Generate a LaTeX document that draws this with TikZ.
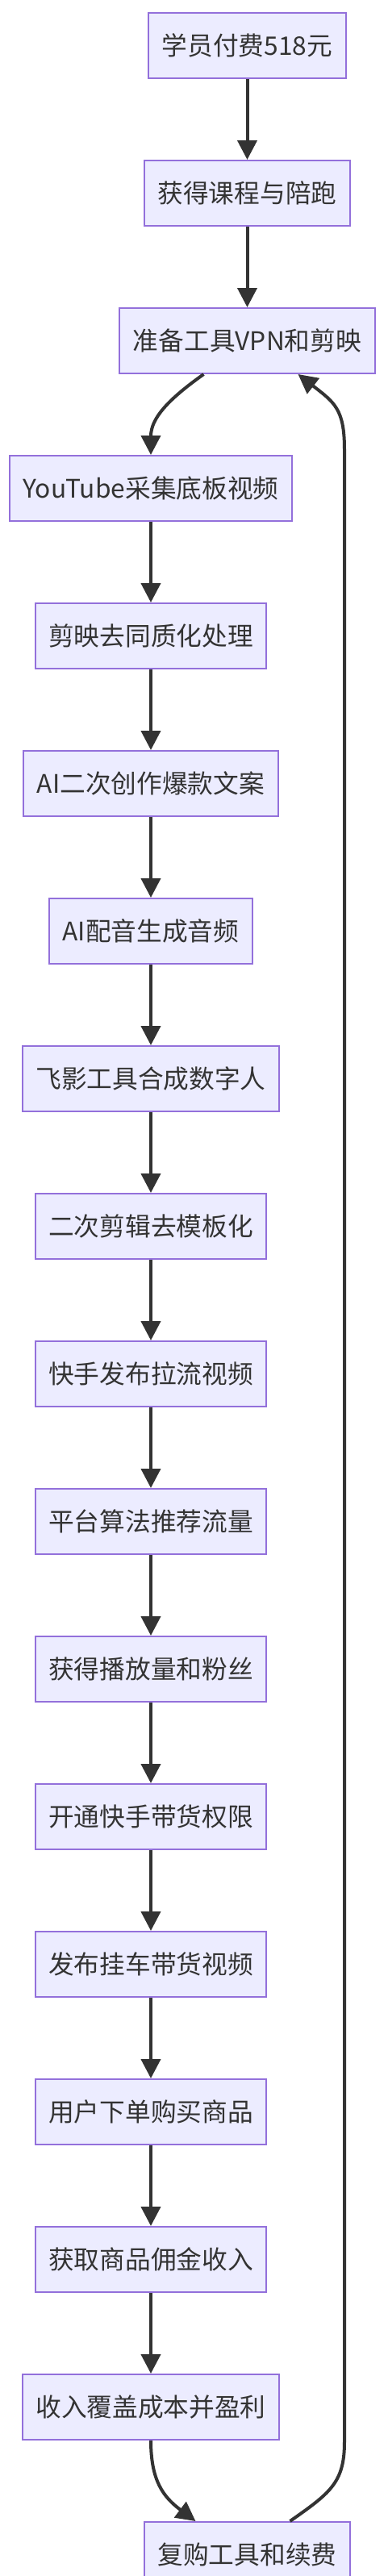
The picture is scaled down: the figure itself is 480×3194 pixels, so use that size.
\documentclass[tikz,border=0pt]{standalone}
\usepackage{fontspec}
\newfontfamily\cjk{Noto Sans CJK SC}
\usetikzlibrary{arrows.meta,positioning,calc}
\definecolor{nodefill}{HTML}{ECECFF}
\definecolor{nodeline}{HTML}{9370DB}
\definecolor{ink}{HTML}{333333}

\begin{document}
\begin{tikzpicture}[x=1pt, y=1pt,
    node distance=100pt,
    flow/.style={rectangle, draw=nodeline, line width=2pt, fill=nodefill, minimum height=81pt, inner xsep=16.5pt, text=ink, font=\cjk\fontsize{31.7pt}{38pt}\selectfont},
    arrow/.style={-{Triangle[length=24pt, width=24pt]}, line width=4pt, draw=ink},
]
    \useasboundingbox (0,0) rectangle (480,-3194);
    \node[flow] (pay) at (306.5,-56.5) {学员付费518元};
    \node[flow, below=of pay] (course) {获得课程与陪跑};
    \node[flow, below=of course] (tools) {准备工具VPN和剪映};
    \node[flow, below=of tools, xshift=-119.5pt] (yt) {YouTube采集底板视频};
    \node[flow, below=of yt] (dedup) {剪映去同质化处理};
    \node[flow, below=of dedup] (copy) {AI二次创作爆款文案};
    \node[flow, below=of copy] (voice) {AI配音生成音频};
    \node[flow, below=of voice] (avatar) {飞影工具合成数字人};
    \node[flow, below=of avatar] (reedit) {二次剪辑去模板化};
    \node[flow, below=of reedit] (publish) {快手发布拉流视频};
    \node[flow, below=of publish] (algo) {平台算法推荐流量};
    \node[flow, below=of algo] (fans) {获得播放量和粉丝};
    \node[flow, below=of fans] (perm) {开通快手带货权限};
    \node[flow, below=of perm] (cart) {发布挂车带货视频};
    \node[flow, below=of cart] (order) {用户下单购买商品};
    \node[flow, below=of order] (commission) {获取商品佣金收入};
    \node[flow, below=of commission] (profit) {收入覆盖成本并盈利};
    \node[flow, below=of profit, xshift=119.5pt] (rebuy) {复购工具和续费};
    \coordinate (loopx) at (427,0);

    \draw[arrow] (pay) -- (course);
    \draw[arrow] (course) -- (tools);
    \draw[arrow] ([xshift=-54pt]tools.south) .. controls +(-45pt,-32pt) and +(0,45pt) .. (yt.north);
    \draw[arrow] (yt) -- (dedup);
    \draw[arrow] (dedup) -- (copy);
    \draw[arrow] (copy) -- (voice);
    \draw[arrow] (voice) -- (avatar);
    \draw[arrow] (avatar) -- (reedit);
    \draw[arrow] (reedit) -- (publish);
    \draw[arrow] (publish) -- (algo);
    \draw[arrow] (algo) -- (fans);
    \draw[arrow] (fans) -- (perm);
    \draw[arrow] (perm) -- (cart);
    \draw[arrow] (cart) -- (order);
    \draw[arrow] (order) -- (commission);
    \draw[arrow] (commission) -- (profit);
    \draw[arrow] (profit.south) .. controls +(0,-50pt) and +(-40pt,30pt) .. ([xshift=-64pt]rebuy.north);
    \draw[arrow] ([xshift=53pt]rebuy.north) .. controls +(50pt,35pt) and +(0,-50pt) .. ($(loopx |- rebuy.north)+(0,98pt)$)
        -- ($(loopx |- tools.south)+(0,-93pt)$) .. controls +(0,50pt) and +(45pt,-35pt) .. ([xshift=63pt]tools.south);
\end{tikzpicture}
\end{document}
